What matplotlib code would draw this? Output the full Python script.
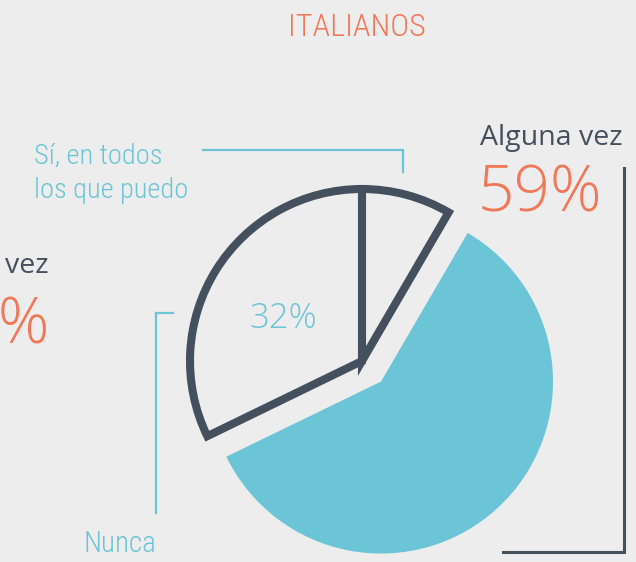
import matplotlib
matplotlib.use("Agg")
import matplotlib.pyplot as plt

# data (slice sizes, labels rounded)
labels = ["Sí, en todos\nlos que puedo", "Alguna vez", "Nunca"]
values = [8.4, 59.4, 32.2]
title = "ITALIANOS"
left_label = "Alguna vez"
left_value = "41%"   # neighbouring chart, cut off at the edge

# colours
bg = "#ededed"
blue = "#6cc5d6"
dark = "#44505e"
orange = "#f07757"

cond = ["Roboto Condensed", "DejaVu Sans Condensed", "Liberation Sans Narrow", "Roboto"]
sans = ["Open Sans", "DejaVu Sans"]

W, H = 636, 562
fig = plt.figure(figsize=(W / 100, H / 100), dpi=100, facecolor=bg)
ax = fig.add_axes([0, 0, 1, 1])
ax.set_facecolor(bg)

# pie: axes in pixel units, y pointing up
cx, cy, r = 362, H - 361, 172
wedges, _ = ax.pie(values, startangle=90, counterclock=False,
                   center=(cx, cy), radius=r,
                   explode=[0, 28, 0], frame=True)
for i, w in enumerate(wedges):
    if i == 1:
        w.set_facecolor(blue)
        w.set_edgecolor("none")
        w.set_zorder(1)
    else:
        w.set_facecolor("none")
        w.set_edgecolor(dark)
        w.set_linewidth(5.8)
        w.set_joinstyle("miter")
        w.set_zorder(2)

ax.set_xlim(0, W)
ax.set_ylim(0, H)
ax.set_aspect("equal")
ax.axis("off")

def py(y):
    return H - y

# title
ax.text(357, py(36), title, color=orange, fontsize=23, family=cond,
        fontweight="light", fontstretch="condensed", ha="center", va="baseline")

# Sí label and leader
ax.text(34, py(198), labels[0], color=blue, fontsize=20.5, family=cond,
        fontweight="light", fontstretch="condensed", ha="left", va="baseline",
        linespacing=1.36)
ax.plot([203, 403, 403], [py(150), py(150), py(172)], color=blue, lw=1.6,
        solid_joinstyle="miter")

# Alguna vez label
ax.text(480, py(145), labels[1], color=dark, fontsize=20.5, family=sans,
        ha="left", va="baseline")
ax.text(478, py(212), f"{round(values[1])}%", color=orange, fontsize=46,
        family=sans, fontweight="light", ha="left", va="baseline")
ax.plot([624, 624, 503], [py(168), py(552), py(552)], color=dark, lw=2.2,
        solid_joinstyle="miter")

# Nunca
ax.text(283, py(328), f"{round(values[2])}%", color=blue, fontsize=25,
        family=sans, fontweight="light", ha="center", va="baseline")
ax.plot([173, 156, 156], [py(313), py(313), py(513)], color=blue, lw=1.6,
        solid_joinstyle="miter")
ax.text(83, py(552), labels[2], color=blue, fontsize=21, family=cond,
        fontweight="light", fontstretch="condensed", ha="left", va="baseline")

# neighbouring chart, clipped by the figure edge
ax.text(49, py(273), left_label, color=dark, fontsize=20.5, family=sans,
        ha="right", va="baseline")
ax.text(50, py(343), left_value, color=orange, fontsize=46, family=sans,
        fontweight="light", ha="right", va="baseline")

fig.savefig("out.png", dpi=100, facecolor=bg)
